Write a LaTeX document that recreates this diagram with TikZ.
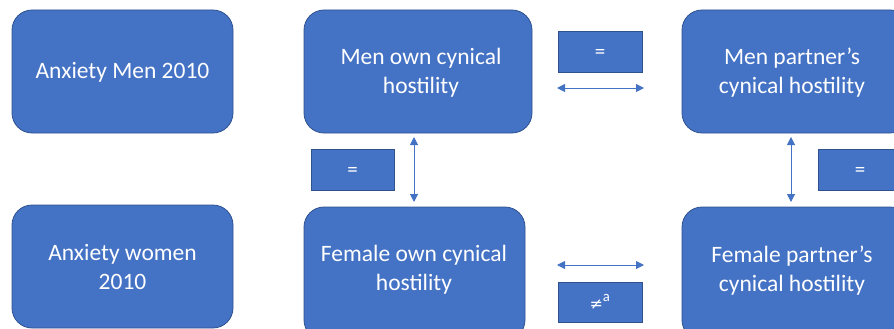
\documentclass[tikz,border=0pt]{standalone}
\usepackage{fontspec}
\setmainfont{Carlito}
\newfontfamily\djsans{DejaVu Sans}
\usetikzlibrary{arrows.meta}
\definecolor{boxfill}{HTML}{4472C4}
\definecolor{boxline}{HTML}{2F528F}
\tikzset{
  bigbox/.style={draw=boxline, fill=boxfill, line width=0.8pt, rounded corners=20pt},
  bigtext/.style={text=white, align=center, font=\fontsize{23.5}{29}\selectfont, inner sep=0pt},
  smallbox/.style={draw=boxline, fill=boxfill, line width=0.8pt, inner sep=0pt},
  smalltext/.style={text=white, font=\fontsize{21}{24}\selectfont, inner sep=0pt},
  link/.style={draw=boxfill, line width=1pt, {Triangle[length=8pt,width=8pt]}-{Triangle[length=8pt,width=8pt]}}
}
\begin{document}
\begin{tikzpicture}[x=1pt,y=-1pt]
\useasboundingbox (0,0) rectangle (894,329);
\clip (0,0) rectangle (894,329);
% big boxes
\path[bigbox] (12,10) rectangle (233,133);
\node[bigtext] (am) at (122.5,72) {Anxiety Men 2010};
\path[bigbox] (12,205) rectangle (233,328);
\node[bigtext] (aw) at (122.5,267) {Anxiety women\\2010};
\path[bigbox] (304,10) rectangle (532,133);
\node[bigtext] (mo) at (421,73) {Men own cynical\\hostility};
\path[bigbox] (304,207) rectangle (525,340);
\node[bigtext] (fo) at (414,270) {Female own cynical\\hostility};
\path[bigbox] (682,10) rectangle (910,133);
\node[bigtext] (mp) at (792,73) {Men partner’s\\cynical hostility};
\path[bigbox] (682,207) rectangle (910,340);
\node[bigtext] (fp) at (792,271) {Female partner’s\\cynical hostility};
% anchor coordinates for arrows
\coordinate (mob) at (414,137);
\coordinate (fot) at (414,202);
\coordinate (mpb) at (791,137);
\coordinate (fpt) at (791,202);
\coordinate (tl) at (557,88);
\coordinate (tr) at (644,88);
\coordinate (bl) at (557,265);
\coordinate (br) at (644,265);
\draw[link] (mob) -- (fot);
\draw[link] (mpb) -- (fpt);
\draw[link] (tl) -- (tr);
\draw[link] (bl) -- (br);
% small boxes
\node[smallbox, minimum width=84pt, minimum height=41pt] (e1) at (600,51.5) {};
\node[smalltext] (e1t) at (600,54) {=};
\node[smallbox, minimum width=83pt, minimum height=41pt] (e2) at (352.5,169.5) {};
\node[smalltext] (e2t) at (352.5,172) {=};
\node[smallbox, minimum width=84pt, minimum height=41pt] (e3) at (860,169.5) {};
\node[smalltext] (e3t) at (860,172) {=};
\node[smallbox, minimum width=84pt, minimum height=40pt] (ne) at (600,302) {};
\node[smalltext] (net) at (600,302) {{\djsans\fontsize{16}{18}\selectfont ≠}\textsuperscript{a}};
\end{tikzpicture}
\end{document}
